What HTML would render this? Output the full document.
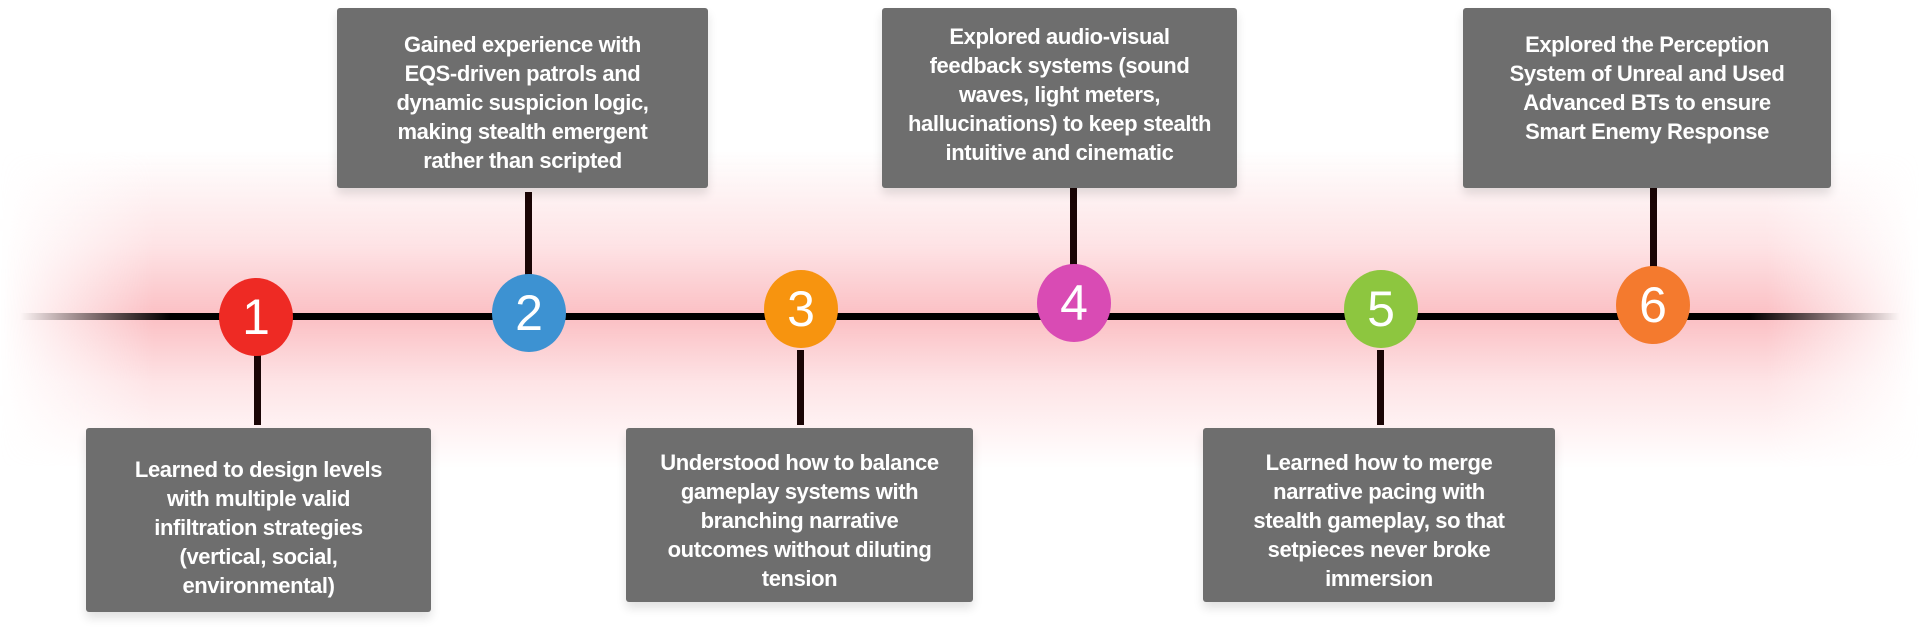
<!DOCTYPE html>
<html><head><meta charset="utf-8"><style>
html,body{margin:0;padding:0}
body{width:1920px;height:632px;position:relative;overflow:hidden;background:#fff;font-family:"Liberation Sans",sans-serif}
.glow{position:absolute;left:0;right:0;top:150px;height:320px;background:linear-gradient(180deg,rgba(255,255,255,0) 0%,rgba(253,215,218,.7) 30%,rgba(250,180,185,.85) 52%,rgba(253,215,218,.7) 72%,rgba(255,255,255,0) 100%);-webkit-mask-image:linear-gradient(90deg,transparent 0%,#000 8%,#000 92%,transparent 100%);mask-image:linear-gradient(90deg,transparent 0%,#000 8%,#000 92%,transparent 100%)}
.line{position:absolute;left:20px;right:20px;top:313px;height:7px;background:linear-gradient(90deg,rgba(0,0,0,0),#000 8%,#000 92%,rgba(0,0,0,0))}
.stem{position:absolute;width:7px;background:#1a0505}
.box{position:absolute;background:#6e6e6e;color:#fff;display:flex;align-items:center;justify-content:center;text-align:center;font-size:22px;font-weight:bold;line-height:29px;letter-spacing:-0.4px;box-shadow:0 6px 10px rgba(0,0,0,.12);border-radius:3px}
.c{position:absolute;width:74px;height:78px;border-radius:50%;color:#fff;font-size:50px;display:flex;align-items:center;justify-content:center;font-weight:normal}
</style></head><body>
<div class="glow"></div>
<div class="line"></div>

<div class="stem" style="left:254px;top:350px;height:75px"></div>
<div class="stem" style="left:525px;top:192px;height:90px"></div>
<div class="stem" style="left:797px;top:350px;height:75px"></div>
<div class="stem" style="left:1070px;top:178px;height:100px"></div>
<div class="stem" style="left:1377px;top:350px;height:75px"></div>
<div class="stem" style="left:1650px;top:188px;height:92px"></div>

<div class="box" style="left:86px;top:428px;width:345px;height:184px;padding-top:14px;box-sizing:border-box">Learned to design levels<br>with multiple valid<br>infiltration strategies<br>(vertical, social,<br>environmental)</div>
<div class="box" style="left:337px;top:8px;width:371px;height:180px;align-items:flex-start;padding-top:22px;box-sizing:border-box">Gained experience with<br>EQS-driven patrols and<br>dynamic suspicion logic,<br>making stealth emergent<br>rather than scripted</div>
<div class="box" style="left:626px;top:428px;width:347px;height:174px;padding-top:10px;box-sizing:border-box">Understood how to balance<br>gameplay systems with<br>branching narrative<br>outcomes without diluting<br>tension</div>
<div class="box" style="left:882px;top:8px;width:355px;height:180px;align-items:flex-start;padding-top:14px;box-sizing:border-box">Explored audio-visual<br>feedback systems (sound<br>waves, light meters,<br>hallucinations) to keep stealth<br>intuitive and cinematic</div>
<div class="box" style="left:1203px;top:428px;width:352px;height:174px;padding-top:10px;box-sizing:border-box">Learned how to merge<br>narrative pacing with<br>stealth gameplay, so that<br>setpieces never broke<br>immersion</div>
<div class="box" style="left:1463px;top:8px;width:368px;height:180px;align-items:flex-start;padding-top:22px;box-sizing:border-box">Explored the Perception<br>System of Unreal and Used<br>Advanced BTs to ensure<br>Smart Enemy Response</div>

<div class="c" style="left:219px;top:278px;background:#ee2a24">1</div>
<div class="c" style="left:492px;top:274px;background:#3d92d2">2</div>
<div class="c" style="left:764px;top:270px;background:#f7940f">3</div>
<div class="c" style="left:1037px;top:264px;background:#d94bb4">4</div>
<div class="c" style="left:1344px;top:270px;background:#8dc63f">5</div>
<div class="c" style="left:1616px;top:266px;background:#f47a2e">6</div>
</body></html>
